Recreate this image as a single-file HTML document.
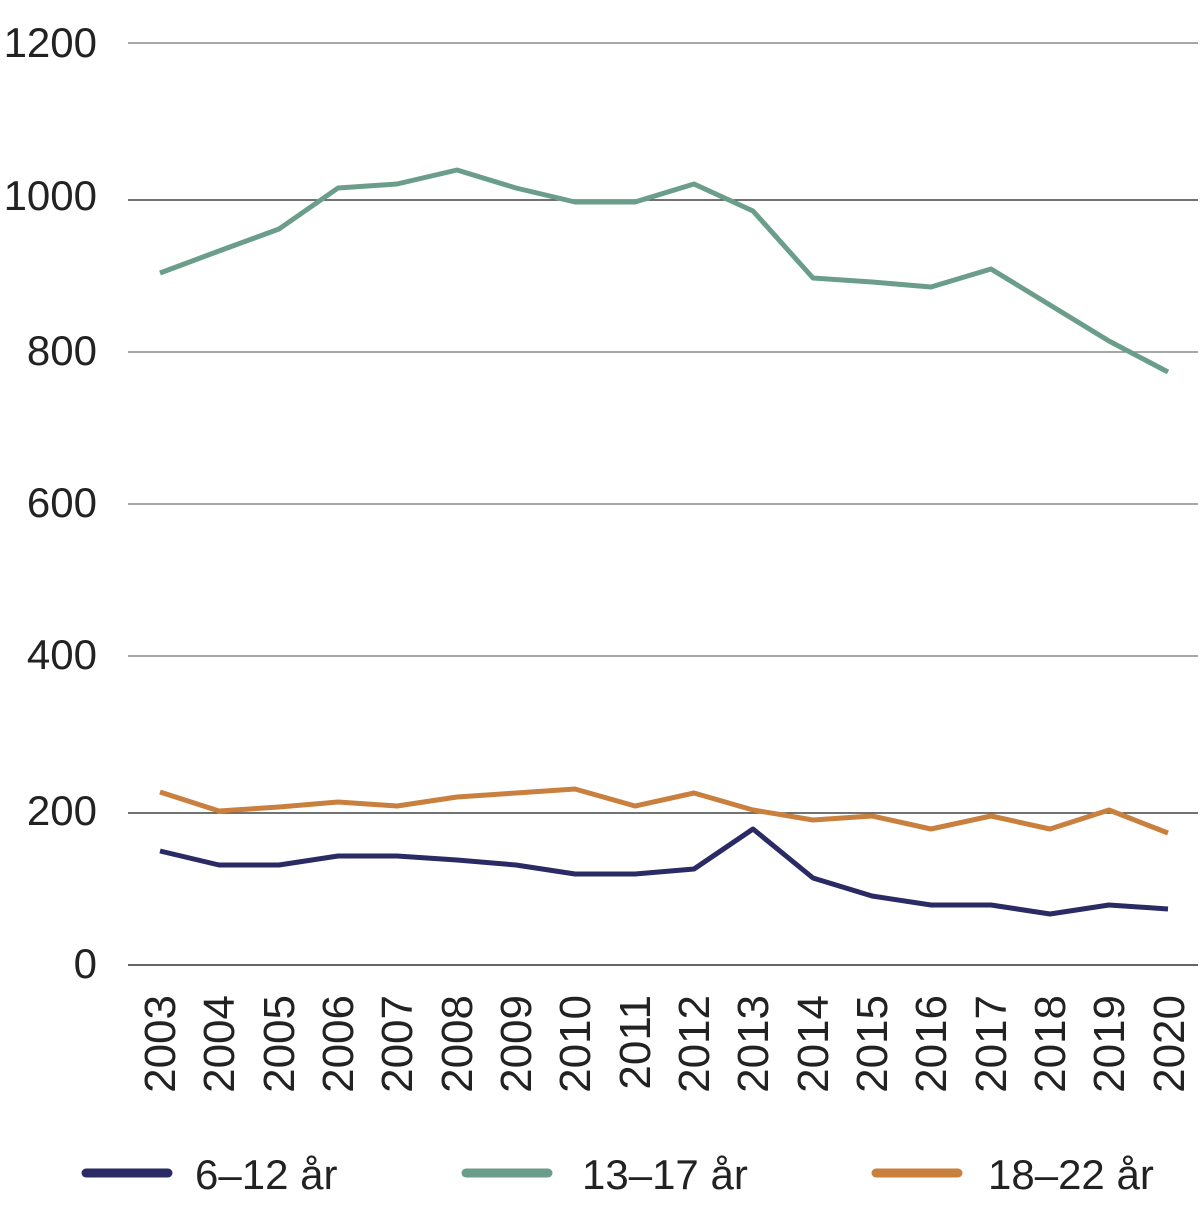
<!DOCTYPE html>
<html><head><style>body{margin:0;background:#fff}</style></head><body>
<svg width="1200" height="1217" xmlns="http://www.w3.org/2000/svg" font-family="Liberation Sans, sans-serif">
<g stroke="#8a8a8a" stroke-width="1.5">
<line x1="128" x2="1198" y1="43" y2="43"/><line x1="128" x2="1198" y1="352" y2="352"/><line x1="128" x2="1198" y1="504" y2="504"/><line x1="128" x2="1198" y1="656" y2="656"/>
</g>
<g stroke="#444" stroke-width="1.5">
<line x1="128" x2="1198" y1="200" y2="200"/><line x1="128" x2="1198" y1="813" y2="813"/>
</g>
<line x1="128" x2="1198" y1="965" y2="965" stroke="#333" stroke-width="1.5"/>
<g font-size="42" fill="#222" text-anchor="end">
<text x="97" y="57">1200</text><text x="97" y="210">1000</text><text x="97" y="365">800</text><text x="97" y="517">600</text><text x="97" y="669">400</text><text x="97" y="825">200</text><text x="97" y="978">0</text>
</g>
<g font-size="44" fill="#222" text-anchor="end">
<text transform="translate(175,995) rotate(-90)">2003</text><text transform="translate(234,995) rotate(-90)">2004</text><text transform="translate(294,995) rotate(-90)">2005</text><text transform="translate(353,995) rotate(-90)">2006</text><text transform="translate(412,995) rotate(-90)">2007</text><text transform="translate(472,995) rotate(-90)">2008</text><text transform="translate(531,995) rotate(-90)">2009</text><text transform="translate(590,995) rotate(-90)">2010</text><text transform="translate(650,995) rotate(-90)">2011</text><text transform="translate(709,995) rotate(-90)">2012</text><text transform="translate(768,995) rotate(-90)">2013</text><text transform="translate(828,995) rotate(-90)">2014</text><text transform="translate(887,995) rotate(-90)">2015</text><text transform="translate(946,995) rotate(-90)">2016</text><text transform="translate(1006,995) rotate(-90)">2017</text><text transform="translate(1065,995) rotate(-90)">2018</text><text transform="translate(1124,995) rotate(-90)">2019</text><text transform="translate(1184,995) rotate(-90)">2020</text>
</g>
<g fill="none" stroke-width="5" stroke-linejoin="round">
<polyline stroke="#6b9e8a" points="160,273 219,251 279,229 338,188 397,184 457,170 516,188 575,202 635,202 694,184 753,211 813,278 872,282 931,287 991,269 1050,305 1109,341 1168,372"/>
<polyline stroke="#c97f3d" points="160,792 219,811 279,807 338,802 397,806 457,797 516,793 575,789 635,806 694,793 753,810 813,820 872,816 931,829 991,816 1050,829 1109,810 1168,833"/>
<polyline stroke="#2a2a64" points="160,851 219,865 279,865 338,856 397,856 457,860 516,865 575,874 635,874 694,869 753,829 813,878 872,896 931,905 991,905 1050,914 1109,905 1168,909"/>
</g>
<g stroke-width="9" stroke-linecap="round">
<line x1="86" x2="168" y1="1173" y2="1173" stroke="#2a2a64"/>
<line x1="466" x2="548" y1="1173" y2="1173" stroke="#6b9e8a"/>
<line x1="876" x2="958" y1="1173" y2="1173" stroke="#c97f3d"/>
</g>
<g font-size="42" fill="#222">
<text x="195" y="1189">6–12 år</text><text x="582" y="1189">13–17 år</text><text x="988" y="1189">18–22 år</text>
</g>
</svg>
</body></html>
